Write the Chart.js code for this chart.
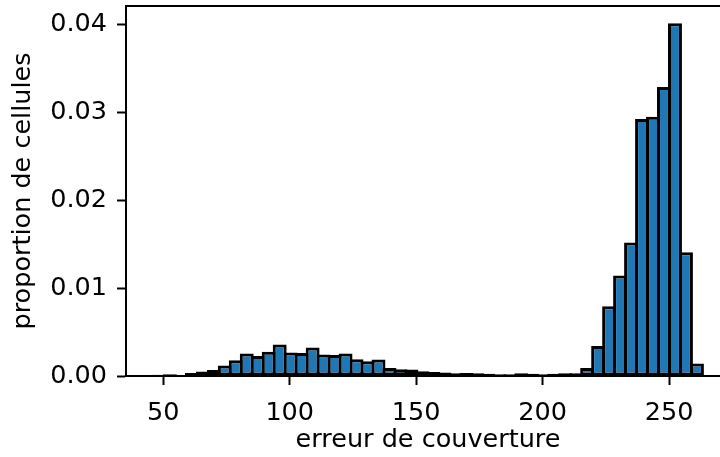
<!DOCTYPE html>
<html>
<head>
<meta charset="utf-8">
<script src="https://cdn.jsdelivr.net/npm/chart.js@4/dist/chart.umd.min.js"></script>
<style>
  html, body { margin: 0; padding: 0; background: #fff; overflow: hidden; }
  #wrap { width: 730px; height: 457px; }
</style>
</head>
<body>
<div id="wrap"><canvas id="histChart" width="730" height="457"></canvas></div>
<script>
// histogram bins (50 bins of equal width)
const binStart = 46.1;
const binWidth = 4.342;
const proportions = [
  0.00015, 0.0002, 0.00008, 0.00034, 0.0005, 0.00068, 0.00118, 0.00179, 0.00255, 0.00228,
  0.00277, 0.00357, 0.00266, 0.00262, 0.00323, 0.00243, 0.00239, 0.00255, 0.0019, 0.00167,
  0.00187, 0.00091, 0.00076, 0.00073, 0.00053, 0.00045, 0.0004, 0.0003, 0.00035, 0.0003,
  0.00025, 0.0002, 0.0002, 0.0003, 0.00025, 0.0002, 0.00025, 0.0003, 0.0003, 0.00091,
  0.00341, 0.00793, 0.01142, 0.01517, 0.0292, 0.02946, 0.03284, 0.04008, 0.01407, 0.00141
];
const xTicks = [50, 100, 150, 200, 250];
const yTicks = [0.00, 0.01, 0.02, 0.03, 0.04];

const points = proportions.map((v, i) => ({ x: binStart + (i + 0.5) * binWidth, y: v }));

const font = { family: 'DejaVu Sans', size: 25.5 };

// top spine like matplotlib
const frame = {
  id: 'frame',
  afterDraw(chart) {
    const a = chart.chartArea, ctx = chart.ctx;
    ctx.save();
    ctx.strokeStyle = '#000';
    ctx.lineWidth = 2;
    ctx.beginPath();
    ctx.moveTo(a.left - 1, a.top);
    ctx.lineTo(a.right, a.top);
    ctx.lineTo(a.right, a.bottom);
    ctx.stroke();
    ctx.restore();
  }
};

const ctx = document.getElementById('histChart').getContext('2d');
new Chart(ctx, {
  type: 'bar',
  data: {
    datasets: [{
      data: points,
      backgroundColor: '#1f77b4',
      borderColor: '#000',
      borderWidth: 3,
      borderSkipped: false,
      barPercentage: 1.27,
      categoryPercentage: 1.0
    }]
  },
  options: {
    responsive: false,
    animation: false,
    layout: { padding: { top: 6, right: 0, left: 0, bottom: 0 } },
    plugins: { legend: { display: false }, tooltip: { enabled: false } },
    scales: {
      x: {
        type: 'linear',
        offset: false,
        min: 35.26,
        max: 274.1,
        afterFit: s => { s.height = 81; s.paddingLeft = 0; s.paddingRight = 0; },
        afterBuildTicks: s => { s.ticks = xTicks.map(v => ({ value: v })); },
        ticks: { font, color: '#000', padding: 13, maxRotation: 0, autoSkip: false },
        grid: { offset: false, drawOnChartArea: false, tickLength: 9, tickWidth: 2, tickColor: '#000' },
        border: { display: true, color: '#000', width: 2 },
        title: { display: true, text: 'erreur de couverture', font, color: '#000', padding: { top: 2, bottom: 1 } }
      },
      y: {
        min: 0,
        max: 0.04205,
        afterFit: s => { s.width = 126; s.paddingTop = 0; s.paddingBottom = 0; },
        afterBuildTicks: s => { s.ticks = yTicks.map(v => ({ value: v })); },
        ticks: { font, color: '#000', padding: 10, callback: v => v.toFixed(2) },
        grid: { drawOnChartArea: false, tickLength: 9, tickWidth: 2, tickColor: '#000' },
        border: { display: true, color: '#000', width: 2 },
        title: { display: true, text: 'proportion de cellules', font, color: '#000', padding: { top: 8, bottom: 0 } }
      }
    }
  },
  plugins: [frame]
});
</script>
</body>
</html>
